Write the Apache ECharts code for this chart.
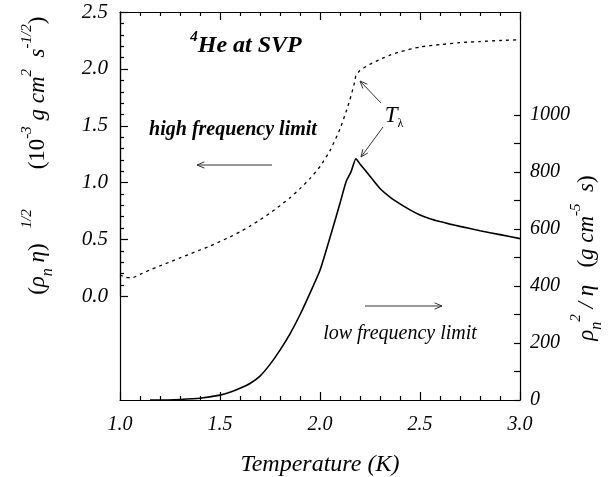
<!DOCTYPE html>
<html>
<head>
<meta charset="utf-8">
<script src="https://cdn.jsdelivr.net/npm/echarts@6/dist/echarts.min.js"></script>
<style>
  html, body { margin: 0; padding: 0; background: #fff; }
  #chart { width: 613px; height: 477px; }
</style>
</head>
<body>
<div id="chart"></div>
<script>
// high frequency limit, (rho_n eta)^1/2, left axis
const hfTemp = [1.0, 1.03, 1.06, 1.1, 1.15, 1.2, 1.25, 1.3, 1.35, 1.4, 1.45, 1.5, 1.55, 1.6, 1.65, 1.7, 1.75, 1.8, 1.85, 1.9, 1.95, 2.0, 2.05, 2.1, 2.13, 2.15, 2.17, 2.18, 2.2, 2.25, 2.3, 2.35, 2.4, 2.5, 2.6, 2.7, 2.8, 2.9, 3.0];
const hfValue = [0.185, 0.165, 0.16, 0.19, 0.23, 0.265, 0.3, 0.335, 0.37, 0.405, 0.44, 0.48, 0.52, 0.565, 0.615, 0.67, 0.73, 0.795, 0.865, 0.945, 1.035, 1.14, 1.28, 1.47, 1.62, 1.73, 1.86, 1.94, 1.985, 2.04, 2.083, 2.12, 2.15, 2.192, 2.213, 2.23, 2.24, 2.249, 2.256];

// low frequency limit, rho_n^2/eta, right axis
const lfTemp = [1.15, 1.2, 1.3, 1.4, 1.5, 1.55, 1.6, 1.65, 1.7, 1.75, 1.8, 1.85, 1.9, 1.95, 2.0, 2.05, 2.1, 2.13, 2.155, 2.18, 2.2, 2.25, 2.3, 2.35, 2.4, 2.45, 2.5, 2.55, 2.6, 2.65, 2.7, 2.8, 2.9, 3.0];
const lfValue = [0, 0, 2, 6, 17, 27, 41, 58, 84, 125, 175, 232, 299, 375, 455, 570, 690, 765, 800, 846, 828, 785, 742, 712, 688, 667, 649, 636, 626, 617, 609, 594, 580, 566];

// tick positions
const tempTicks = [1.0, 1.5, 2.0, 2.5, 3.0];
const tempMinor = [1.1, 1.2, 1.3, 1.4, 1.6, 1.7, 1.8, 1.9, 2.1, 2.2, 2.3, 2.4, 2.6, 2.7, 2.8, 2.9];
const leftTicks = [0.0, 0.5, 1.0, 1.5, 2.0, 2.5];
const leftMinor = [0.1, 0.2, 0.3, 0.4, 0.6, 0.7, 0.8, 0.9, 1.1, 1.2, 1.3, 1.4, 1.6, 1.7, 1.8, 1.9, 2.1, 2.2, 2.3, 2.4];
const rightLabels = [0, 200, 400, 600, 800, 1000];
const rightTicks = [0, 100, 200, 300, 400, 500, 600, 700, 800, 900, 1000];
const rightMax = 1361;

const serif = '"Liberation Serif", "DejaVu Serif", serif';

const myChart = echarts.init(document.getElementById('chart'));

function arrow(x1, y1, x2, y2) {
    const a = Math.atan2(y2 - y1, x2 - x1);
    const h = 8, w = 0.4;
    return {
        type: 'group',
        children: [
            { type: 'line', shape: { x1, y1, x2, y2 }, style: { stroke: '#333', lineWidth: 1 } },
            {
                type: 'polyline',
                shape: {
                    points: [
                        [x2 - h * Math.cos(a - w), y2 - h * Math.sin(a - w)],
                        [x2, y2],
                        [x2 - h * Math.cos(a + w), y2 - h * Math.sin(a + w)]
                    ]
                },
                style: { stroke: '#333', lineWidth: 1, fill: null }
            }
        ]
    };
}

const richBase = {
    m: { fontFamily: serif, fontStyle: 'italic', fontSize: 23, lineHeight: 36, verticalAlign: 'middle' },
    sup: { fontFamily: serif, fontStyle: 'italic', fontSize: 15, lineHeight: 36, verticalAlign: 'top' },
    sub: { fontFamily: serif, fontStyle: 'italic', fontSize: 16, lineHeight: 36, verticalAlign: 'bottom' },
    r: { fontFamily: serif, fontStyle: 'normal', fontSize: 23, lineHeight: 36, verticalAlign: 'middle' }
};

const axLine = () => ({ show: true, onZero: false, lineStyle: { color: '#000', width: 1.2 } });
const noLabel = { show: false };
const noSplit = { show: false };
const noTick = { show: false };
const labelFont = { color: '#000', fontFamily: serif, fontStyle: 'italic', fontSize: 20 };

const graphics = [
    {
        type: 'text', x: 38, y: 252, rotation: Math.PI / 2,
        style: {
            text: '{r|(}{m|ρ}{sub|n}{m| η}{r|)}{sup|    1/2}',
            rich: richBase, align: 'center', verticalAlign: 'middle', fill: '#000'
        }
    },
    {
        type: 'text', x: 38, y: 93, rotation: Math.PI / 2,
        style: {
            text: '{r|(10}{sup|-3}{m| g cm}{sup|2}{m|  s}{sup|-1/2}{r|)}',
            rich: richBase, align: 'center', verticalAlign: 'middle', fill: '#000'
        }
    },
    {
        type: 'text', x: 587, y: 258, rotation: Math.PI / 2,
        style: {
            text: '{m|ρ}{sub|n}{sup|2}{m| / η   }{r|(}{m|g cm}{sup|-5}{m|  s}{r|)}',
            rich: richBase, align: 'center', verticalAlign: 'middle', fill: '#000'
        }
    },
    {
        type: 'text', x: 246, y: 46,
        style: {
            text: '{sup|4}{m|He at SVP}',
            rich: {
                m: { fontFamily: serif, fontStyle: 'italic', fontWeight: 'bold', fontSize: 24, lineHeight: 32, verticalAlign: 'middle' },
                sup: { fontFamily: serif, fontStyle: 'italic', fontWeight: 'bold', fontSize: 15, lineHeight: 32, verticalAlign: 'top' }
            },
            align: 'center', verticalAlign: 'middle', fill: '#000'
        }
    },
    {
        type: 'text', x: 233, y: 130,
        style: { text: 'high frequency limit', font: 'italic bold 20px ' + serif, align: 'center', verticalAlign: 'middle', fill: '#000' }
    },
    {
        type: 'text', x: 400, y: 334,
        style: { text: 'low frequency limit', font: 'italic 20px ' + serif, align: 'center', verticalAlign: 'middle', fill: '#000' }
    },
    {
        type: 'text', x: 394, y: 116,
        style: {
            text: '{m|T}{sub|λ}',
            rich: {
                m: { fontFamily: serif, fontStyle: 'italic', fontSize: 23, lineHeight: 28, verticalAlign: 'middle' },
                sub: { fontFamily: serif, fontSize: 12, lineHeight: 28, verticalAlign: 'bottom' }
            },
            align: 'center', verticalAlign: 'middle', fill: '#000'
        }
    },
    arrow(272, 165, 197, 165),
    arrow(365, 306, 442, 306),
    arrow(381, 103, 360, 81),
    arrow(383, 127, 361, 157)
];

const option = {
    animation: false,
    backgroundColor: '#fff',
    grid: [
        { left: 120, right: 93, top: 12, bottom: 77, outerBoundsMode: 'none' },
        { left: 120, right: 93, top: 12, bottom: 181, outerBoundsMode: 'none' }
    ],
    xAxis: [
        {
            gridIndex: 0, type: 'value', position: 'bottom', min: 1, max: 3,
            axisLine: axLine(), axisTick: noTick, splitLine: noSplit,
            axisLabel: Object.assign({ margin: 15, customValues: tempTicks, formatter: v => v.toFixed(1) }, labelFont),
            name: 'Temperature (K)', nameLocation: 'middle', nameGap: 53,
            nameTextStyle: { color: '#000', fontFamily: serif, fontStyle: 'italic', fontSize: 24 }
        },
        {
            gridIndex: 0, type: 'value', position: 'top', min: 1, max: 3,
            axisLine: axLine(), axisTick: noTick, splitLine: noSplit, axisLabel: noLabel
        },
        { gridIndex: 1, type: 'value', min: 1, max: 3, show: false }
    ],
    yAxis: [
        {
            gridIndex: 1, type: 'value', position: 'left', min: 0, max: 2.5,
            axisLine: axLine(), axisTick: noTick, splitLine: noSplit,
            axisLabel: Object.assign({ margin: 12, customValues: leftTicks, formatter: v => v.toFixed(1) }, labelFont, { fontSize: 21 })
        },
        {
            gridIndex: 0, type: 'value', position: 'right', min: 0, max: rightMax,
            axisLine: axLine(),
            axisTick: { show: true, inside: true, length: 6, customValues: rightTicks, lineStyle: { color: '#000', width: 1.2 } },
            splitLine: noSplit,
            axisLabel: Object.assign({ margin: 10, customValues: rightLabels, formatter: v => String(v) }, labelFont)
        },
        {
            // plain left frame line down to the bottom axis
            gridIndex: 0, type: 'value', position: 'left', min: 0, max: rightMax,
            axisLine: axLine(), axisTick: noTick, axisLabel: noLabel, splitLine: noSplit
        }
    ],
    series: [
        {
            name: 'high frequency limit', type: 'line', xAxisIndex: 2, yAxisIndex: 0,
            data: hfTemp.map((t, i) => [t, hfValue[i]]),
            symbol: 'none', smooth: 0.2,
            lineStyle: { color: '#000', width: 1.3, type: [3, 4] }
        },
        {
            name: 'low frequency limit', type: 'line', xAxisIndex: 0, yAxisIndex: 1,
            data: lfTemp.map((t, i) => [t, lfValue[i]]),
            symbol: 'none', smooth: 0.2,
            lineStyle: { color: '#000', width: 1.6 }
        }
    ],
    graphic: graphics
};

myChart.setOption(option);

// tick marks on the left, bottom and top edges, placed through the chart's own scales
const tickStyle = { stroke: '#000', lineWidth: 1.2 };
const px = v => Math.round(myChart.convertToPixel({ xAxisIndex: 0 }, v)) + 0.5;
const pyLeft = v => Math.round(myChart.convertToPixel({ yAxisIndex: 0 }, v)) + 0.5;
const frameTop = myChart.convertToPixel({ yAxisIndex: 1 }, rightMax);
const frameBottom = myChart.convertToPixel({ yAxisIndex: 1 }, 0);
const frameLeft = myChart.convertToPixel({ xAxisIndex: 0 }, 1);

const tickEls = [];
[[tempTicks, 8], [tempMinor, 4]].forEach(([vals, len]) => {
    vals.forEach(t => {
        const x = px(t);
        tickEls.push({ type: 'line', z: 10, shape: { x1: x, y1: frameBottom, x2: x, y2: frameBottom - len }, style: tickStyle });
        tickEls.push({ type: 'line', z: 10, shape: { x1: x, y1: frameTop, x2: x, y2: frameTop + len }, style: tickStyle });
    });
});
[[leftTicks, 8], [leftMinor, 4]].forEach(([vals, len]) => {
    vals.forEach(v => {
        const y = pyLeft(v);
        tickEls.push({ type: 'line', z: 10, shape: { x1: frameLeft, y1: y, x2: frameLeft + len, y2: y }, style: tickStyle });
    });
});

myChart.setOption({ graphic: graphics.concat(tickEls) });
</script>
</body>
</html>
